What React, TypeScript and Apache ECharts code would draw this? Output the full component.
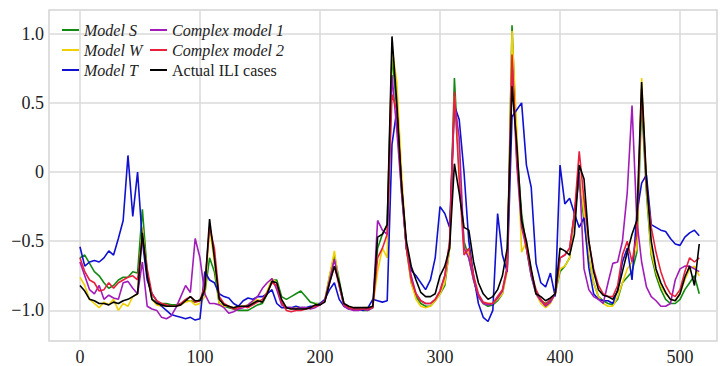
import React, { useEffect, useRef } from 'react';
import * as echarts from 'echarts';

// sample spacing of the series (weeks)
const STEP = 4;

const MODEL_S = [
  -0.62, -0.60, -0.66, -0.72, -0.75, -0.80, -0.84, -0.82, -0.78, -0.76,
  -0.76, -0.72, -0.73, -0.27, -0.72, -0.92, -0.94, -0.95, -0.95, -0.96,
  -0.96, -0.95, -0.93, -0.93, -0.94, -0.92, -0.88, -0.62, -0.72, -0.95,
  -0.97, -0.98, -0.99, -1.00, -1.00, -1.00, -0.98, -0.96, -0.95, -0.88,
  -0.78, -0.78, -0.90, -0.92, -0.90, -0.88, -0.86, -0.90, -0.94, -0.95,
  -0.95, -0.93, -0.75, -0.60, -0.78, -0.96, -0.98, -0.99, -0.99, -1.00,
  -1.00, -0.98, -0.55, -0.45, -0.38, 0.85, 0.45, -0.15, -0.55, -0.80,
  -0.90, -0.95, -0.97, -0.97, -0.93, -0.88, -0.82, -0.55, 0.68, 0.00,
  -0.50, -0.62, -0.78, -0.90, -0.95, -0.97, -0.96, -0.93, -0.88, -0.70,
  1.06, 0.15, -0.30, -0.55, -0.75, -0.88, -0.93, -0.95, -0.93, -0.88,
  -0.72, -0.68, -0.62, -0.30, -0.05, -0.35, -0.62, -0.80, -0.90, -0.93,
  -0.95, -0.96, -0.92, -0.80, -0.76, -0.72, -0.58, 0.50, -0.15, -0.60,
  -0.75, -0.85, -0.92, -0.95, -0.95, -0.92, -0.85, -0.80, -0.75, -0.88,
];

const MODEL_W = [
  -0.76, -0.82, -0.92, -0.95, -0.98, -0.94, -0.96, -0.92, -1.00, -0.95,
  -0.97, -0.90, -0.88, -0.40, -0.75, -0.92, -0.96, -0.97, -0.97, -0.97,
  -0.97, -0.96, -0.94, -0.93, -0.96, -0.95, -0.90, -0.40, -0.65, -0.95,
  -0.97, -0.97, -0.98, -0.97, -0.97, -0.96, -0.94, -0.92, -0.94, -0.86,
  -0.77, -0.80, -0.93, -0.98, -0.99, -0.98, -0.98, -0.99, -0.98, -0.96,
  -0.95, -0.93, -0.75, -0.57, -0.82, -0.96, -0.98, -0.98, -0.99, -0.98,
  -0.98, -0.97, -0.72, -0.55, -0.62, 0.90, 0.65, 0.00, -0.55, -0.80,
  -0.92, -0.97, -0.98, -0.97, -0.93, -0.88, -0.80, -0.55, 0.55, 0.05,
  -0.55, -0.60, -0.78, -0.90, -0.95, -0.95, -0.95, -0.92, -0.88, -0.72,
  1.02, 0.30, -0.58, -0.50, -0.72, -0.88, -0.95, -0.98, -0.95, -0.88,
  -0.70, -0.68, -0.62, -0.30, 0.00, -0.30, -0.60, -0.80, -0.90, -0.95,
  -0.97, -0.97, -0.90, -0.80, -0.70, -0.65, -0.55, 0.68, -0.10, -0.58,
  -0.72, -0.82, -0.88, -0.92, -0.93, -0.88, -0.78, -0.70, -0.68, -0.75,
];

const MODEL_T = [
  -0.54, -0.68, -0.65, -0.64, -0.65, -0.62, -0.57, -0.60, -0.48, -0.35,
  0.12, -0.32, 0.00, -0.50, -0.78, -0.88, -0.93, -0.97, -1.00, -1.03,
  -1.04, -1.05, -1.06, -1.05, -1.07, -1.06, -0.72, -0.78, -0.80, -0.88,
  -0.90, -0.91, -0.95, -0.97, -0.93, -0.91, -0.92, -0.90, -0.90, -0.88,
  -0.85, -0.95, -0.98, -0.98, -0.98, -0.97, -0.98, -0.98, -0.97, -0.97,
  -0.95, -0.92, -0.85, -0.80, -0.92, -0.97, -0.99, -0.99, -0.99, -1.00,
  -0.98, -0.92, -0.93, -0.94, -0.93, 0.20, 0.45, -0.10, -0.55, -0.71,
  -0.75, -0.80, -0.85, -0.78, -0.62, -0.25, -0.30, -0.40, 0.48, 0.38,
  0.00, -0.50, -0.75, -0.95, -1.05, -1.08, -1.00, -0.30, -0.60, -0.72,
  0.40, 0.45, 0.50, 0.05, -0.11, -0.66, -0.80, -0.83, -0.73, -0.90,
  0.05, -0.23, -0.19, -0.30, -0.40, -0.33, -0.69, -0.88, -0.92, -0.93,
  -0.93, -0.95, -0.85, -0.65, -0.55, -0.78, -0.30, -0.08, -0.02, -0.38,
  -0.40, -0.42, -0.43, -0.48, -0.52, -0.53, -0.47, -0.44, -0.42, -0.46,
];

const COMPLEX_1 = [
  -0.65, -0.75, -0.85, -0.88, -0.82, -0.92, -0.89, -0.91, -0.92, -0.80,
  -0.79, -0.84, -0.88, -0.65, -0.97, -0.99, -1.00, -1.05, -1.06, -1.04,
  -0.98, -0.90, -0.82, -0.87, -0.48, -0.62, -0.88, -0.95, -0.95, -0.96,
  -0.98, -1.02, -1.01, -0.99, -0.98, -0.96, -0.93, -0.90, -0.84, -0.80,
  -0.77, -0.85, -0.96, -0.98, -0.98, -0.99, -0.98, -0.98, -0.99, -0.98,
  -0.96, -0.93, -0.78, -0.63, -0.82, -0.97, -0.99, -1.00, -1.00, -0.99,
  -1.00, -0.98, -0.35, -0.42, -0.45, 0.70, 0.30, -0.15, -0.55, -0.75,
  -0.88, -0.93, -0.95, -0.95, -0.92, -0.86, -0.75, -0.52, 0.50, 0.25,
  -0.55, -0.62, -0.78, -0.90, -0.95, -0.96, -0.95, -0.91, -0.86, -0.70,
  0.80, 0.05, -0.40, -0.55, -0.75, -0.88, -0.93, -0.97, -0.94, -0.88,
  -0.62, -0.60, -0.55, -0.30, 0.00, -0.70, -0.85, -0.90, -0.92, -0.95,
  -0.80, -0.66, -0.65, -0.50, -0.15, 0.48, -0.35, -0.65, -0.83, -0.90,
  -0.93, -0.97, -0.97, -0.95, -0.78, -0.70, -0.68, -0.68, -0.70, -0.72,
];

const COMPLEX_2 = [
  -0.62, -0.72, -0.78, -0.80, -0.86, -0.85, -0.80, -0.84, -0.80, -0.78,
  -0.76, -0.75, -0.78, -0.47, -0.70, -0.88, -0.93, -0.95, -0.96, -0.97,
  -0.97, -0.95, -0.92, -0.90, -0.94, -0.93, -0.82, -0.40, -0.55, -0.90,
  -0.95, -0.97, -0.99, -0.98, -0.97, -0.98, -0.96, -0.94, -0.92, -0.87,
  -0.80, -0.82, -0.94, -1.00, -1.01, -1.00, -1.00, -0.99, -0.98, -0.97,
  -0.96, -0.93, -0.80, -0.68, -0.82, -0.96, -0.98, -0.99, -0.99, -0.99,
  -0.99, -0.98, -0.62, -0.55, -0.45, 0.56, 0.45, -0.10, -0.55, -0.78,
  -0.88, -0.93, -0.95, -0.95, -0.92, -0.86, -0.75, -0.50, 0.58, -0.05,
  -0.60, -0.55, -0.75, -0.88, -0.94, -0.95, -0.95, -0.90, -0.85, -0.68,
  0.85, 0.10, -0.35, -0.55, -0.72, -0.85, -0.92, -0.96, -0.92, -0.88,
  -0.62, -0.60, -0.55, -0.30, 0.15, -0.20, -0.50, -0.70, -0.82, -0.88,
  -0.90, -0.90, -0.82, -0.60, -0.50, -0.65, -0.45, 0.60, -0.10, -0.40,
  -0.58, -0.72, -0.82, -0.88, -0.90, -0.85, -0.72, -0.62, -0.65, -0.62,
];

const ACTUAL = [
  -0.82, -0.86, -0.92, -0.93, -0.95, -0.95, -0.96, -0.94, -0.95, -0.93,
  -0.92, -0.90, -0.88, -0.44, -0.75, -0.92, -0.95, -0.96, -0.97, -0.97,
  -0.97, -0.96, -0.93, -0.90, -0.93, -0.93, -0.85, -0.34, -0.62, -0.92,
  -0.96, -0.97, -0.98, -0.97, -0.97, -0.97, -0.95, -0.93, -0.94, -0.88,
  -0.79, -0.80, -0.92, -0.98, -0.99, -0.99, -0.99, -0.99, -0.98, -0.96,
  -0.96, -0.94, -0.80, -0.68, -0.80, -0.95, -0.97, -0.98, -0.98, -0.98,
  -0.98, -0.97, -0.47, -0.45, -0.38, 0.98, 0.50, -0.10, -0.50, -0.68,
  -0.78, -0.87, -0.90, -0.90, -0.88, -0.75, -0.68, -0.55, 0.06, -0.15,
  -0.40, -0.42, -0.65, -0.80, -0.88, -0.92, -0.90, -0.85, -0.75, -0.55,
  0.62, 0.20, -0.35, -0.50, -0.70, -0.88, -0.90, -0.93, -0.91, -0.88,
  -0.55, -0.57, -0.60, -0.45, 0.05, -0.05, -0.50, -0.72, -0.85, -0.89,
  -0.90, -0.92, -0.86, -0.72, -0.58, -0.45, -0.35, 0.65, -0.05, -0.50,
  -0.70, -0.80, -0.87, -0.92, -0.93, -0.88, -0.76, -0.68, -0.82, -0.52,
];

const X_TICKS = [0, 100, 200, 300, 400, 500];
const Y_TICKS = [-1, -0.5, 0, 0.5, 1];

const SERIES = [
  { name: 'Model S', data: MODEL_S, color: '#128a12' },
  { name: 'Model W', data: MODEL_W, color: '#f0d000' },
  { name: 'Model T', data: MODEL_T, color: '#1010d0' },
  { name: 'Complex model 1', data: COMPLEX_1, color: '#a11cb8' },
  { name: 'Complex model 2', data: COMPLEX_2, color: '#e8203c' },
  { name: 'Actual ILI cases', data: ACTUAL, color: '#000000' },
];

const FONT = 'Liberation Serif';

export default function App() {
  const ref = useRef<HTMLDivElement>(null);
  useEffect(() => {
    if (!ref.current) return;
    const chart = echarts.init(ref.current, null, { renderer: 'svg' });
    const fmtY = (v: number) =>
      v === 0 ? '0' : (v < 0 ? '\u2212' : '') + Math.abs(v).toFixed(1);
    const legendText = { fontFamily: FONT, fontSize: 16, color: '#222', fontStyle: 'italic', lineHeight: 18 };
    chart.setOption({
      animation: false,
      backgroundColor: '#ffffff',
      textStyle: { fontFamily: FONT },
      grid: {
        left: 49, top: 10, width: 668, height: 335,
        show: true, borderColor: '#d4d4d4', borderWidth: 1.5, containLabel: false,
      },
      legend: [
        {
          orient: 'vertical', left: 57, top: 16, itemGap: 2,
          itemWidth: 17, itemHeight: 2, icon: 'rect',
          textStyle: legendText,
          data: ['Model S', 'Model W', 'Model T'],
        },
        {
          orient: 'vertical', left: 145, top: 16, itemGap: 2,
          itemWidth: 17, itemHeight: 2, icon: 'rect',
          textStyle: legendText,
          data: [
            'Complex model 1',
            'Complex model 2',
            { name: 'Actual ILI cases', textStyle: { fontStyle: 'normal' } },
          ],
        },
      ],
      xAxis: {
        type: 'value', min: -25.8, max: 530.8,
        axisLine: { show: false },
        axisTick: { show: false, customValues: X_TICKS },
        axisLabel: {
          customValues: X_TICKS, fontFamily: FONT, fontSize: 18, color: '#222', margin: 7,
        },
        splitLine: { show: true, lineStyle: { color: '#dadada', width: 1.5 } },
      },
      yAxis: {
        type: 'value', min: -1.221, max: 1.171,
        axisLine: { show: false },
        axisTick: { show: false, customValues: Y_TICKS },
        axisLabel: {
          customValues: Y_TICKS, fontFamily: FONT, fontSize: 18, color: '#222', margin: 5,
          formatter: fmtY,
        },
        splitLine: { show: true, lineStyle: { color: '#dadada', width: 1.5 } },
      },
      series: SERIES.map((s) => ({
        name: s.name,
        type: 'line',
        symbol: 'none',
        showSymbol: false,
        color: s.color,
        lineStyle: { color: s.color, width: 1.6 },
        data: s.data.map((v, i) => [i * STEP, v]),
      })),
    });
    return () => chart.dispose();
  }, []);
  return (
    <div
      ref={ref}
      style={{ position: 'absolute', left: 0, top: 0, width: 720, height: 366, background: '#fff' }}
    />
  );
}
